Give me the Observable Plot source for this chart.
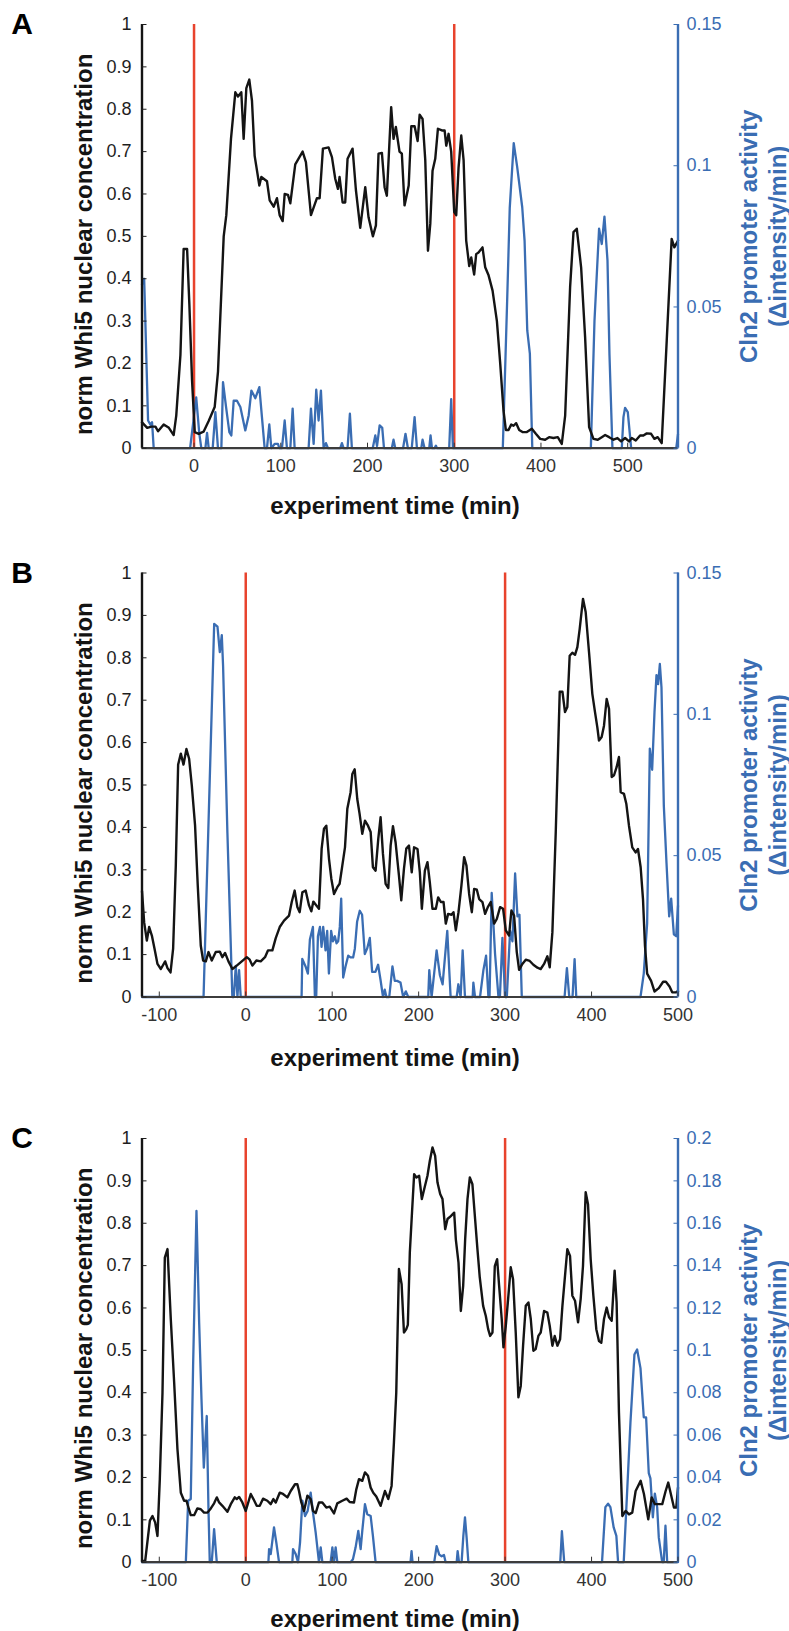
<!DOCTYPE html>
<html>
<head>
<meta charset="utf-8">
<script src="https://cdn.jsdelivr.net/npm/d3@7"></script>
<script src="https://cdn.jsdelivr.net/npm/@observablehq/plot@0.6"></script>
<style>
  html, body { margin: 0; padding: 0; background: #fff; }
  #chart { width: 789px; }
  #chart svg { display: block; }
</style>
</head>
<body>
<div id="chart"></div>
<script>
// ---------- data ----------
const panelLetters = ["A", "B", "C"];
const xTitle = "experiment time (min)";
const leftTitle = "norm Whi5 nuclear concentration";
const rightTitle = "Cln2 promoter activity\n(\u0394intensity/min)";
const eventTimes = [0, 300];
const leftTicks = [0, 0.1, 0.2, 0.3, 0.4, 0.5, 0.6, 0.7, 0.8, 0.9, 1];
const xTicksA = [0, 100, 200, 300, 400, 500];
const xTicksBC = [-100, 0, 100, 200, 300, 400, 500];
const rightTicksAB = [0, 0.05, 0.1, 0.15];
const rightTicksC = [0, 0.02, 0.04, 0.06, 0.08, 0.1, 0.12, 0.14, 0.16, 0.18, 0.2];
const xDomainA = [-60, 558];
const xDomainBC = [-120, 500];

// Panel A
const whi5TimeA = [-60,-54,-49,-44.5,-41.5,-35,-29,-23.5,-20.5,-15.7,-12,-8,-5.4,-2.3,0.8,5.4,11,17,23.8,27.6,34.2,37.2,42.6,47.6,50.7,54.5,57.2,60.3,63.7,66.8,69.9,75.3,77.6,84.1,87.2,91.8,95.6,98.7,102.2,104.5,108.3,111,116.7,125.2,129,134.8,141.7,144.8,148.6,155.1,159,162.8,165.9,167.8,171.3,174.3,177,182.8,186.6,191.6,197.4,201.2,206.2,209.7,212.7,216.6,219.7,222.3,227.3,230,232.7,236.9,239.6,242.7,244.5,247.5,250.5,254.3,257.8,260.1,263.5,266.6,269.7,272.4,275,278.1,281.2,285.8,288.9,290.8,293.5,296.5,300,302.3,305,308.1,310.8,313.8,317.3,319.6,323,325.3,328,332.6,335.7,339.6,344.2,349.2,353,356.8,359.5,362.6,365.7,368.4,371.4,374.9,378.7,383.7,389.5,394.1,399.1,404.8,409.4,414.4,419.4,424,427.9,433.6,437.5,441.3,446.3,450.9,455.5,460.5,465.5,470.1,474,478.6,483.6,488.2,492.4,497,501.6,504.7,509.3,514.3,518.1,522,527,530.8,534.6,539.2,545,550.7,553.8,558];
const whi5A = [0.061,0.048,0.051,0.051,0.040,0.056,0.048,0.031,0.077,0.22,0.47,0.47,0.34,0.16,0.038,0.034,0.039,0.065,0.097,0.18,0.50,0.55,0.73,0.84,0.83,0.84,0.73,0.85,0.87,0.82,0.69,0.62,0.64,0.63,0.585,0.57,0.59,0.55,0.536,0.60,0.598,0.578,0.67,0.70,0.675,0.55,0.59,0.59,0.707,0.71,0.687,0.636,0.612,0.64,0.58,0.58,0.683,0.707,0.61,0.52,0.616,0.545,0.50,0.526,0.695,0.697,0.616,0.596,0.805,0.73,0.758,0.70,0.695,0.573,0.59,0.62,0.76,0.76,0.725,0.787,0.777,0.68,0.466,0.53,0.655,0.683,0.754,0.75,0.75,0.714,0.742,0.70,0.557,0.55,0.663,0.738,0.68,0.49,0.43,0.45,0.41,0.458,0.462,0.474,0.427,0.408,0.372,0.30,0.20,0.089,0.043,0.043,0.056,0.053,0.059,0.043,0.038,0.038,0.046,0.034,0.022,0.020,0.026,0.024,0.026,0.010,0.077,0.38,0.51,0.518,0.427,0.262,0.05,0.022,0.020,0.026,0.031,0.026,0.020,0.024,0.016,0.024,0.016,0.024,0.018,0.030,0.030,0.035,0.034,0.022,0.026,0.012,0.254,0.494,0.474,0.49];
const cln2TimeA = [-60,-57.5,-53,-50.3,-48.4,-46.5,-4.5,2.5,6.1,8.4,13.1,15,16.9,21.5,24.6,27.6,31.5,33.4,36.9,40.7,43,45.7,49.5,53.4,59.1,63,66.1,70.7,75.3,78.3,81.4,84.1,86.8,89.1,92.9,96.8,98.3,101.4,104.5,107.1,111,113.7,116,132.1,134.8,137.9,140.9,143.6,146.3,149.4,152.1,154.4,168.6,170.5,172.4,177,179.7,182,206,209,211,214,217,219,228,230,232,241,243.8,246.6,251,254.3,257,262,263.5,265.8,271.2,272.7,274.3,277.3,278.9,280,294.2,296.5,298.5,356,361,364,368.6,372.6,378.4,381.1,384.2,387.2,390,457.5,461.7,467,470.1,473.2,476.7,479,482.4,493.2,495.1,497,500.1,504,556,558];
const cln2A = [0.058,0.060,0.0098,0.0083,0.0092,0,0,0.018,0.0051,0,0,0.0054,0,0,0.0128,0,0,0.0234,0.0146,0.0057,0.0045,0.0168,0.0168,0.0146,0.0063,0.0116,0.0204,0.0177,0.0216,0.011,0,0,0.0084,0,0.0015,0.0015,0,0,0.0098,0,0,0.014,0,0,0.014,0.0015,0.0207,0.0098,0.0204,0,0.0018,0,0,0.0018,0,0,0.0122,0,0,0.0045,0.0008,0.0081,0.0072,0,0,0.003,0,0,0.0051,0,0,0.011,0,0,0.003,0,0,0.0045,0,0,0.0009,0,0,0.0174,0,0,0.052,0.085,0.108,0.0995,0.0853,0.0735,0.0417,0.0335,0,0,0.045,0.0777,0.0723,0.082,0.0665,0.033,0,0,0.011,0.0143,0.0128,0,0,0.005];

// Panel B
const whi5TimeB = [-120,-117.5,-114.4,-111.7,-108.6,-105.5,-102.1,-98.2,-93.2,-90.5,-87,-84,-80.9,-78.2,-75.1,-72,-68.6,-65.5,-62.4,-58.6,-55.5,-52,-49.3,-46.2,-43.1,-39.3,-34.7,-30,-27,-23.9,-20,-15.4,-10.4,-4.6,1.2,4.6,7.7,12.3,17.3,22.3,25.8,30.8,34.7,39.3,44.3,50.1,53.2,56.6,59.7,62.4,65.5,69.3,73.2,75.9,78.2,81.7,84.7,87.8,90.5,93.2,96.3,99,102.1,105.9,108.6,111.7,114.8,117.5,121.3,123.3,126,129,131.7,134.8,137.9,141.4,144.5,147.1,150.2,153.3,156,158.7,161.8,164.9,167.6,170.3,173.3,177.2,179.9,183,185.7,188.8,192,194.7,198.7,201.4,203.7,207.2,210.2,212.9,216,219.9,222.6,225.7,228.8,231.4,234.1,238,240.3,243,246.1,249.5,252.6,255.3,258.4,261.5,264.2,267.3,270,273.8,276.9,280,283.4,287.3,290.4,294.2,297.7,300.8,304.6,307.3,310.4,313.5,316.2,320,323.9,328.5,332.7,337.4,341.2,345.1,348.9,351.6,354.7,358.6,363.2,366.3,369.3,372,374.7,377.8,380.9,383.6,386.3,390.1,393.2,397.1,400.9,404,406.7,408.6,411.7,414.4,417.5,420.2,423.3,426,429,431.7,433.7,437.5,440.2,443.3,447.1,451,453.7,456.8,459.5,461.8,464.3,468.9,472.8,477.8,482.8,486,490.2,493.3,497.9,500];
const whi5B = [0.25,0.176,0.133,0.165,0.145,0.114,0.078,0.066,0.084,0.068,0.058,0.114,0.31,0.548,0.574,0.548,0.585,0.562,0.499,0.404,0.263,0.121,0.086,0.084,0.106,0.086,0.106,0.107,0.094,0.104,0.084,0.066,0.074,0.084,0.094,0.088,0.074,0.086,0.084,0.094,0.11,0.11,0.139,0.165,0.18,0.192,0.224,0.251,0.212,0.2,0.247,0.251,0.216,0.202,0.225,0.216,0.208,0.35,0.397,0.404,0.326,0.279,0.243,0.259,0.267,0.31,0.353,0.444,0.483,0.526,0.537,0.467,0.432,0.385,0.416,0.404,0.389,0.306,0.298,0.373,0.424,0.338,0.267,0.257,0.357,0.403,0.365,0.287,0.228,0.302,0.35,0.357,0.294,0.353,0.349,0.294,0.208,0.298,0.318,0.271,0.208,0.208,0.235,0.224,0.224,0.173,0.196,0.194,0.2,0.157,0.2,0.263,0.33,0.31,0.243,0.2,0.255,0.253,0.231,0.224,0.196,0.212,0.224,0.173,0.184,0.212,0.208,0.157,0.145,0.204,0.192,0.106,0.064,0.078,0.088,0.085,0.076,0.069,0.066,0.078,0.096,0.07,0.153,0.389,0.72,0.72,0.672,0.684,0.805,0.812,0.807,0.825,0.868,0.939,0.908,0.813,0.715,0.672,0.636,0.605,0.613,0.64,0.703,0.68,0.519,0.523,0.542,0.566,0.483,0.479,0.456,0.404,0.353,0.341,0.349,0.306,0.231,0.121,0.055,0.038,0.013,0.021,0.036,0.036,0.025,0.011,0.011,0.014];
const cln2TimeB = [-120,-48.8,-36.5,-32.7,-30,-27.7,-26.2,-21.2,-15.5,-13.8,-11.5,-9.6,-7.7,-5.8,64.6,65.4,69.2,71.9,74.2,77.7,80,81.5,83.5,85.8,87.7,89.6,92.3,94.2,96.2,98.8,100.8,103.1,105,106.9,108.8,110.4,112.7,115.4,118.5,121.2,124.2,126.2,128.8,131.9,134.6,137.7,140.4,143.5,146.2,150,153.1,155.8,158.8,160.8,162.7,166,169.7,172.4,175.1,179,182.1,185.2,188,211.1,212.3,215,220.8,224.6,227.7,233.1,237,244,245.9,248.6,250.9,253.6,262.5,263.3,265.2,271,274.9,278,280.7,282,284.5,288.4,292.3,294,296.9,300,302,305.8,308.5,311.6,314.3,316.6,319.3,368.8,371.5,374.2,378,380.4,382.3,456.6,460.4,464.3,467.4,470.1,472.8,475.1,477,479,480.9,483.6,486.7,489.8,492.1,495.2,497.9,500];
const cln2B = [0,0,0.132,0.131,0.122,0.128,0.117,0.058,0,0,0.011,0,0.0095,0,0,0.0135,0.0108,0.0083,0.0203,0.0248,0,0,0.0215,0.0248,0.0177,0.0248,0.0165,0.0234,0.0083,0.0234,0.0197,0.0215,0.019,0.0197,0.0248,0.0348,0.0069,0.0108,0.0146,0.014,0.014,0.0171,0.0266,0.0305,0.0291,0.0152,0.0171,0.0209,0.0089,0.0089,0.0114,0.0063,0,0.0026,0,0,0.0108,0.0057,0.0057,0.0051,0,0.002,0,0,0.0095,0,0.0165,0.0077,0.0045,0.0234,0,0,0.0045,0,0.0165,0,0,0.0051,0,0,0.0095,0.0146,0,0,0.0368,0.0152,0,0,0.0209,0,0,0.0234,0.0197,0.0437,0.0285,0.0291,0,0,0.0102,0,0,0.0134,0,0,0.0083,0.026,0.0879,0.0804,0.1007,0.1139,0.1107,0.1178,0.1095,0.0677,0.0474,0.0285,0.0348,0.0222,0.0215,0.0323];

// Panel C
const whi5TimeC = [-120,-116.3,-110.9,-107.9,-104.8,-102.1,-99.4,-96.3,-93.6,-90.5,-86.7,-82.8,-79,-75.1,-71.3,-68.6,-63.6,-59.7,-55.9,-52,-48.2,-44.3,-40.4,-36.6,-33.5,-30.8,-27,-21.2,-17.3,-12.7,-10.4,-7.7,-3.9,0,5.8,8.9,12.7,16.2,20,25,28.9,32,34.7,39.3,43.1,48.2,52,57,59.7,61.6,64.3,67.4,71.3,75.1,77.8,80.9,84.7,88.6,93.2,97.1,102.1,105.9,111.7,116.7,120.2,125.2,127.9,131,134.8,137.9,141.4,144.5,147.5,151,156,161,164.9,168.7,171.4,174.1,177.2,180.3,183,185.7,187.5,189.8,192.1,194.8,197.5,200.6,203.7,206.4,210.2,212.9,216,219.1,221.8,224.9,227.6,230.7,233.4,237.2,241.1,243,246.1,248.8,251.5,253.8,256.5,259.2,262.2,265.3,268,270.7,274.6,277.7,280.4,282.7,285.4,288.1,290.8,293.1,296.1,298.1,300.8,303.5,306.5,309.2,312.3,315.4,318.1,320.8,323.9,327,329.7,332.7,335.4,338.5,341.2,345.1,348.9,351.6,354.7,357.4,360.5,363.6,366.3,369.3,372,375.1,377.8,380.9,384.4,387.4,390.1,393.2,395.9,399,402.1,405.5,408.6,411.3,414.4,417.5,420.2,423.3,426.7,429,431.7,435.6,439.4,443.3,447.1,451,456.8,460.6,465.6,469.5,473.3,477.9,481.8,485.7,488.7,492.2,495.3,498,500];
const whi5C = [0.003,0.003,0.098,0.109,0.094,0.062,0.196,0.40,0.719,0.739,0.574,0.424,0.267,0.164,0.145,0.145,0.111,0.111,0.127,0.125,0.117,0.117,0.127,0.139,0.153,0.141,0.133,0.119,0.137,0.153,0.149,0.154,0.141,0.121,0.161,0.149,0.133,0.133,0.15,0.145,0.137,0.149,0.141,0.164,0.161,0.153,0.168,0.184,0.184,0.168,0.141,0.121,0.157,0.149,0.121,0.116,0.141,0.141,0.129,0.131,0.115,0.139,0.145,0.15,0.142,0.141,0.172,0.196,0.192,0.212,0.204,0.176,0.164,0.155,0.133,0.168,0.149,0.18,0.282,0.40,0.692,0.656,0.542,0.55,0.56,0.731,0.817,0.916,0.908,0.912,0.857,0.88,0.912,0.947,0.979,0.959,0.896,0.869,0.857,0.786,0.81,0.817,0.825,0.762,0.707,0.593,0.652,0.762,0.857,0.908,0.892,0.81,0.739,0.672,0.605,0.581,0.55,0.534,0.542,0.699,0.715,0.652,0.574,0.507,0.558,0.621,0.696,0.668,0.542,0.389,0.416,0.511,0.605,0.613,0.574,0.499,0.503,0.534,0.542,0.593,0.589,0.558,0.511,0.534,0.511,0.526,0.605,0.676,0.739,0.723,0.629,0.617,0.566,0.621,0.699,0.873,0.845,0.715,0.629,0.55,0.522,0.518,0.574,0.601,0.578,0.57,0.688,0.613,0.353,0.109,0.121,0.113,0.117,0.168,0.192,0.161,0.101,0.153,0.137,0.137,0.137,0.168,0.188,0.157,0.129,0.129,0.176];
const cln2TimeC = [-120,-69.3,-66.6,-63.6,-60.9,-57,-53.9,-51.2,-48.5,-46.2,-45.1,-43.1,-41.6,-39.3,-36.6,-33.5,26.2,27,28.9,32.7,35.4,38.5,53.9,54.7,57.8,60.5,62.8,65.5,68.6,71.6,75.1,77.8,80.9,84.7,86.7,88.6,98.2,100.2,102.1,104,105.9,121.3,124,127.1,130.2,132.9,134.8,137.9,140.6,144.5,147.1,150.2,190.6,191.8,192.9,218,220.8,223.8,226.6,229.3,231.2,244,245.1,246.7,249.7,251.7,253.6,255.5,257.5,363.8,365.7,368.4,412.1,416,419.1,421.8,425.6,428.7,430.7,437.2,440.3,445,449.6,452.7,456.6,460.4,463.1,466.2,468.1,470.9,473.2,475.9,477.8,481.7,483.5,485.5,487.5,500];
const cln2C = [0,0,0.029,0.0298,0.0926,0.1658,0.1132,0.077,0.0446,0.0612,0.069,0.025,0,0,0.0156,0,0,0.0062,0.0038,0.0164,0.0092,0,0,0.0062,0.0038,0,0.0092,0.029,0.0218,0.0242,0.0328,0.0234,0.014,0,0.007,0,0,0.007,0,0.007,0,0,0.0014,0.007,0.0148,0.0062,0.0148,0.0274,0.0226,0.0218,0.0124,0,0,0.0052,0,0,0.0076,0.0036,0.0028,0.0034,0,0,0.0052,0,0,0.0124,0.0212,0.0116,0,0,0.0146,0,0,0.026,0.0276,0.026,0.0164,0.0124,0,0,0.026,0.066,0.098,0.1004,0.0916,0.0684,0.0684,0.042,0.0396,0.0212,0.0324,0.026,0.0116,0,0,0.0172,0,0];

// ---------- drawing ----------
const FONT = "'Liberation Sans', Arial, Helvetica, sans-serif";
const RED = "#e8432d";
const BLUE = "#3a6db3";
const BLACK = "#141414";
const AXIS_GRAY = "#3c3c3c";

const fmt = d => String(+(+d).toFixed(4));

function panel(cfg) {
  const whi = cfg.tW.map((t, i) => ({t, v: cfg.w[i]}));
  const cln = cfg.tC.map((t, i) => ({t, v: cfg.c[i] / cfg.cMax}));
  const cMax = cfg.cMax;
  return Plot.plot({
    width: 789,
    height: cfg.height,
    marginLeft: 141.5,
    marginRight: 111.5,
    marginTop: cfg.mt,
    marginBottom: cfg.mb,
    x: {domain: cfg.xDomain, label: null},
    y: {domain: [0, 1], label: null},
    style: {fontFamily: FONT, background: "#fff", overflow: "visible"},
    marks: [
      Plot.ruleX(eventTimes, {stroke: RED, strokeWidth: 2.5}),
      Plot.line(cln, {x: "t", y: "v", stroke: BLUE, strokeWidth: 2.3}),
      Plot.line(whi, {x: "t", y: "v", stroke: BLACK, strokeWidth: 2.4}),
      Plot.ruleY([0], {stroke: AXIS_GRAY, strokeWidth: 2.2}),
      Plot.ruleX([cfg.xDomain[0]], {stroke: BLACK, strokeWidth: 2.4}),
      Plot.ruleX([cfg.xDomain[1]], {stroke: BLUE, strokeWidth: 2.4}),
      Plot.axisX(cfg.xTicks, {anchor: "bottom", label: null, tickSize: -5, tickPadding: 16.5,
        fontSize: 18, color: "#333", tickFormat: d => String(d)}),
      Plot.axisY(leftTicks, {anchor: "left", label: null, tickSize: -5, tickPadding: 15.5,
        fontSize: 18, color: "#1e1e1e", tickFormat: fmt}),
      Plot.axisY(cfg.rTicks.map(d => d / cMax), {anchor: "right", label: null, tickSize: -5, tickPadding: 13.5,
        fontSize: 18, color: BLUE, tickFormat: d => fmt(d * cMax)}),
      Plot.text([xTitle], {frameAnchor: "bottom", dy: cfg.xtDy, dx: -15, fontSize: 24, fontWeight: "bold",
        lineAnchor: "middle", fill: BLACK}),
      Plot.text([leftTitle], {frameAnchor: "left", dx: -57.5, dy: 8, rotate: -90, fontSize: 24, fontWeight: "bold",
        lineAnchor: "middle", textAnchor: "middle", fill: BLACK}),
      Plot.text([rightTitle], {frameAnchor: "right", dx: 84.5, rotate: -90, fontSize: 24, fontWeight: "bold",
        lineAnchor: "middle", textAnchor: "middle", lineHeight: 1.17, fill: BLUE}),
      Plot.text([cfg.letter], {frameAnchor: "top-left", dx: -120, dy: 0, fontSize: 30, fontWeight: "bold",
        lineAnchor: "middle", textAnchor: "middle", fill: "#000"})
    ]
  });
}

const root = document.getElementById("chart");
root.append(panel({letter: panelLetters[0], tW: whi5TimeA, w: whi5A, tC: cln2TimeA, c: cln2A, cMax: 0.15,
  rTicks: rightTicksAB, xDomain: xDomainA, xTicks: xTicksA, height: 530, mt: 24, mb: 82.3, xtDy: 58}));
root.append(panel({letter: panelLetters[1], tW: whi5TimeB, w: whi5B, tC: cln2TimeB, c: cln2B, cMax: 0.15,
  rTicks: rightTicksAB, xDomain: xDomainBC, xTicks: xTicksBC, height: 545, mt: 42.5, mb: 78.5, xtDy: 61}));
root.append(panel({letter: panelLetters[2], tW: whi5TimeC, w: whi5C, tC: cln2TimeC, c: cln2C, cMax: 0.2,
  rTicks: rightTicksC, xDomain: xDomainBC, xTicks: xTicksBC, height: 556, mt: 63, mb: 69.3, xtDy: 57}));
</script>
</body>
</html>
